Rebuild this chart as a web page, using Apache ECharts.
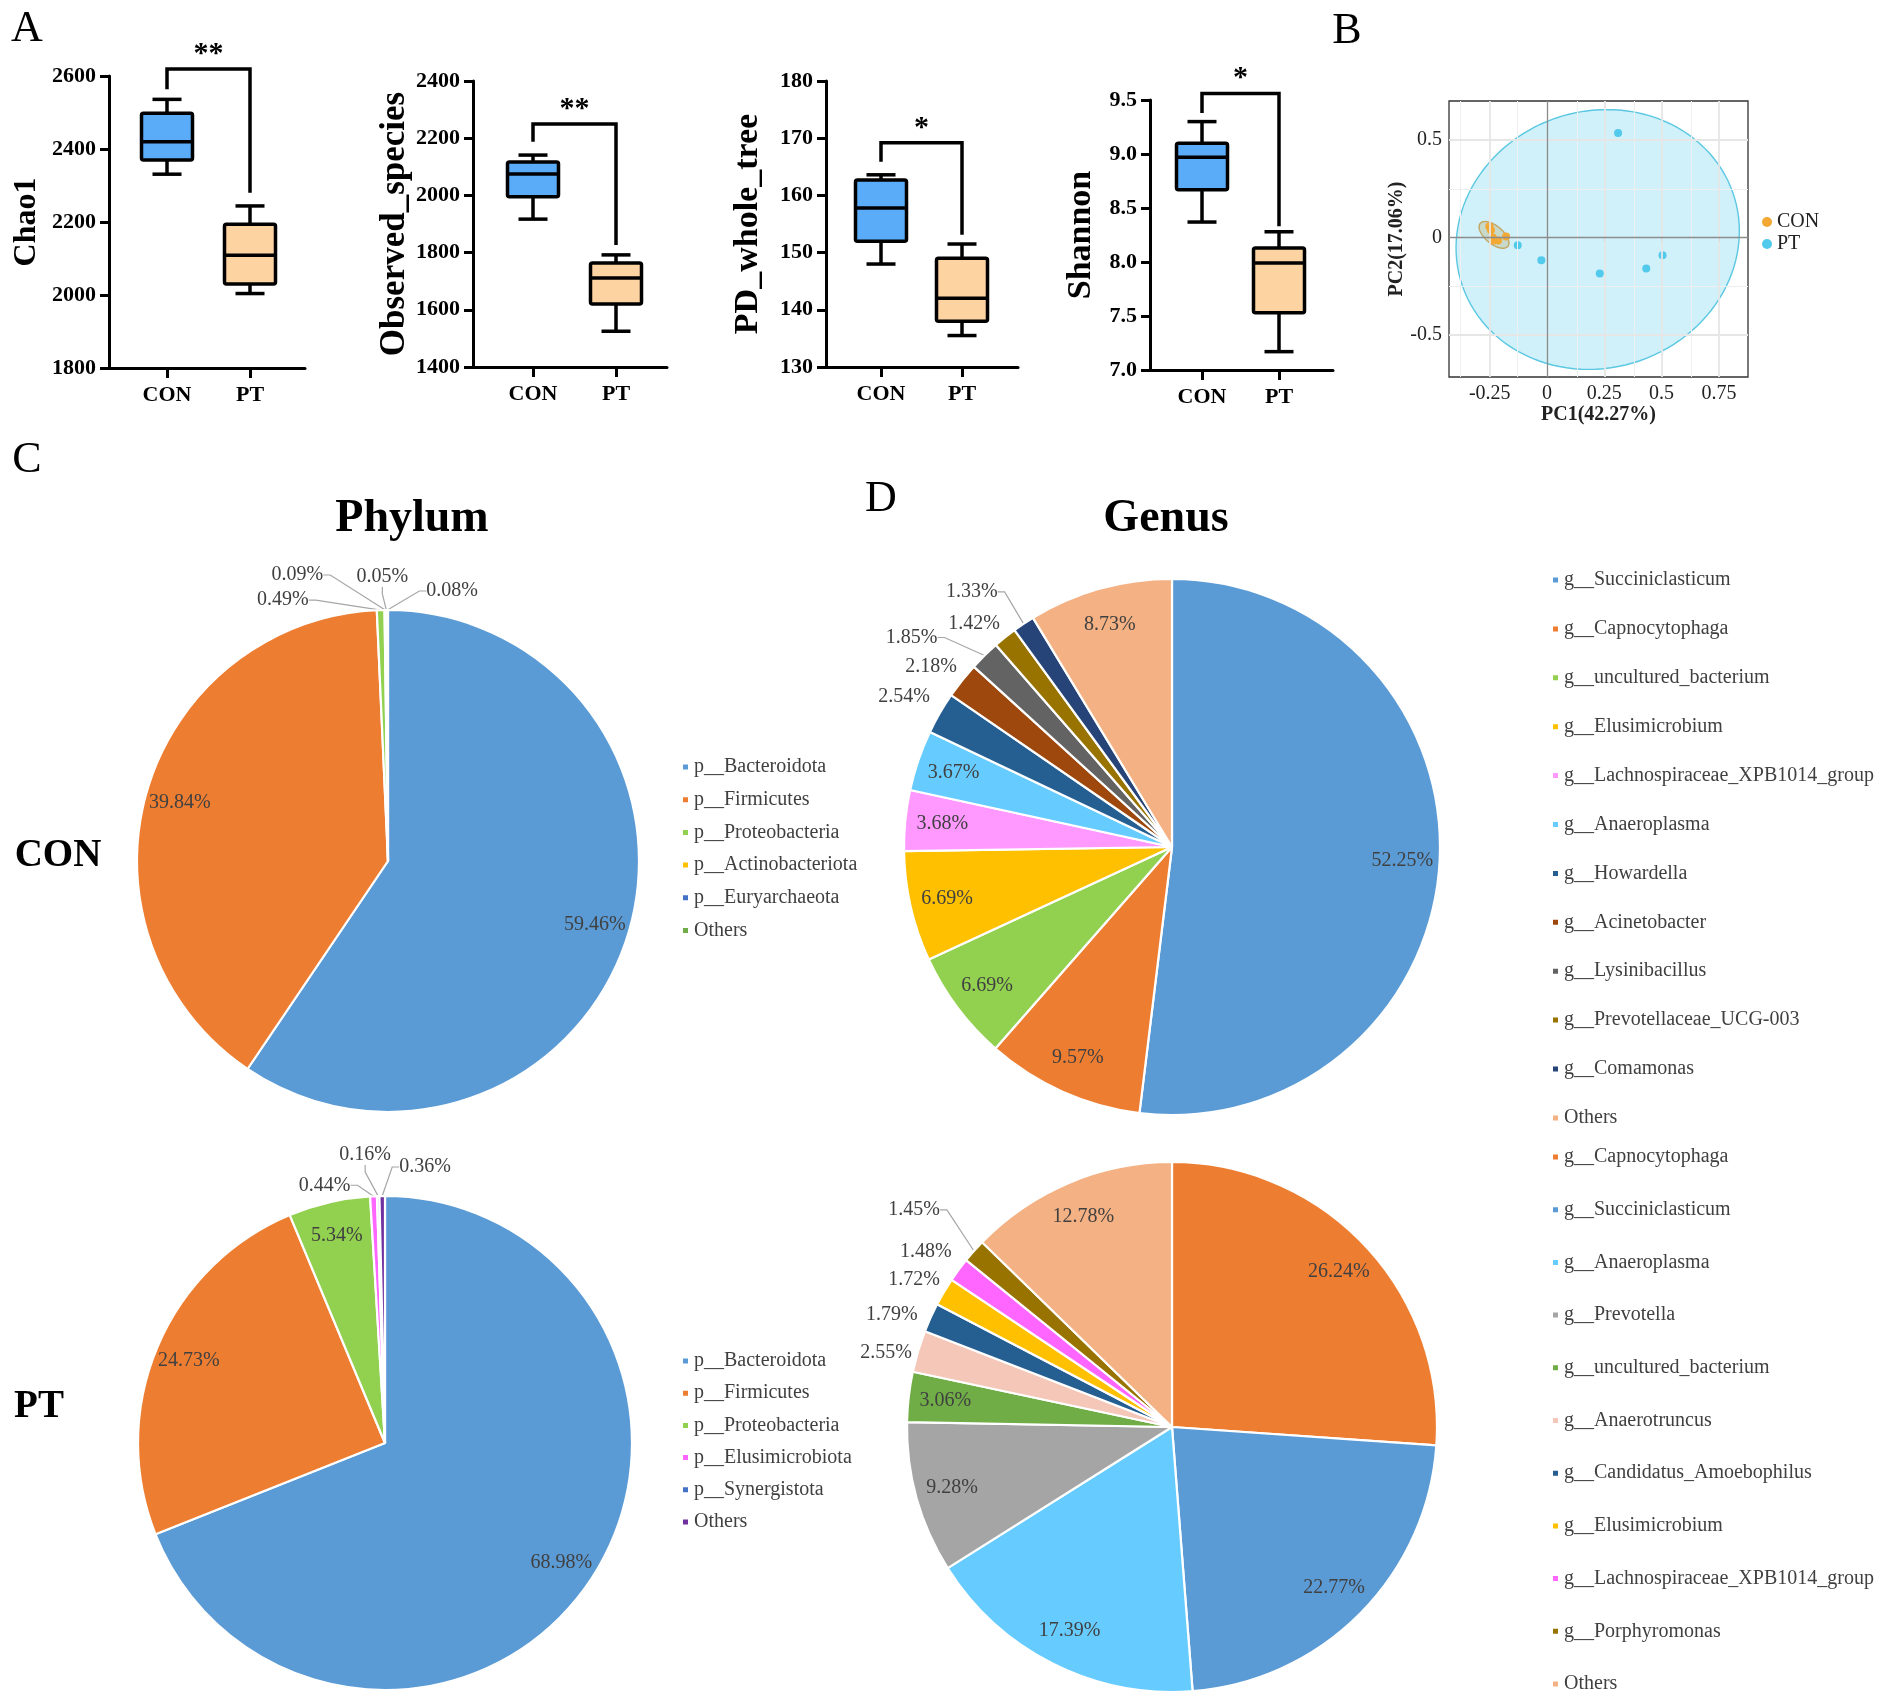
<!DOCTYPE html>
<html><head><meta charset="utf-8">
<script src="https://cdn.jsdelivr.net/npm/echarts@6/dist/echarts.min.js"></script>
<style>html,body{margin:0;padding:0;background:#fff}#c{width:1902px;height:1700px}</style>
</head><body><div id="c"></div>
<script>
const FONT = '"Liberation Serif","Times New Roman",Times,serif';

// ---------- Panel A: alpha diversity (min, Q1, median, Q3, max) ----------
const groups = ['CON', 'PT'];
const chao1 = [[2331, 2370, 2420, 2498, 2536], [2004, 2030, 2109, 2194, 2244]];
const observedSpecies = [[1917, 1995, 2075, 2117, 2141], [1525, 1620, 1711, 1764, 1792]];
const pdWholeTree = [[148, 152, 157.8, 162.7, 163.6], [135.5, 138, 142, 149, 151.5]];
const shannon = [[8.37, 8.67, 8.97, 9.10, 9.30], [7.17, 7.53, 7.99, 8.13, 8.28]];
const alphaNames = ['Chao1', 'Observed_species', 'PD_whole_tree', 'Shannon'];
const alphaAxis = [[1800, 2600, 200], [1400, 2400, 200], [130, 180, 10], [7.0, 9.5, 0.5]];
// bracket: [top, left leg end, right leg end]
const bracketLevels = [[2619, 2564, 2280], [2250, 2188, 1827], [169.2, 165.9, 153.1], [9.56, 9.38, 8.33]];
const significance = ['**', '**', '*', '*'];

// ---------- Panel B: PCoA ----------
const pcoaCON = [[-0.252, 0.056], [-0.245, 0.039], [-0.237, 0.0], [-0.232, -0.015], [-0.214, -0.015], [-0.179, 0.005]];
const pcoaPT = [[0.310, 0.536], [-0.128, -0.04], [-0.025, -0.116], [0.230, -0.185], [0.433, -0.159], [0.504, -0.091]];
const ellipseCON = {cx: -0.2315, cy: 0.0135, ax: 0.0606, ay: -0.0582, bx: -0.0237, by: -0.0361};
const ellipsePT = {cx: 0.221, cy: -0.01, ax: 0.617, ay: 0, bx: 0.04, by: 0.666};
const pcoaXTicks = [-0.25, 0, 0.25, 0.5, 0.75];
const pcoaYTicks = [-0.5, 0, 0.5];
const pcoaXMinor = [-0.375, -0.125, 0.125, 0.375, 0.625, 0.875];
const pcoaYMinor = [-0.25, 0.25];

// ---------- Panels C / D: composition ----------
const phylumConNames = ['p__Bacteroidota', 'p__Firmicutes', 'p__Proteobacteria', 'p__Actinobacteriota', 'p__Euryarchaeota', 'Others'];
const phylumConValues = [59.46, 39.84, 0.49, 0.09, 0.05, 0.08];
const phylumPtNames = ['p__Bacteroidota', 'p__Firmicutes', 'p__Proteobacteria', 'p__Elusimicrobiota', 'p__Synergistota', 'Others'];
const phylumPtValues = [68.98, 24.73, 5.34, 0.44, 0.16, 0.36];
const genusConNames = ['g__Succiniclasticum', 'g__Capnocytophaga', 'g__uncultured_bacterium', 'g__Elusimicrobium', 'g__Lachnospiraceae_XPB1014_group', 'g__Anaeroplasma', 'g__Howardella', 'g__Acinetobacter', 'g__Lysinibacillus', 'g__Prevotellaceae_UCG-003', 'g__Comamonas', 'Others'];
const genusConValues = [52.25, 9.57, 6.69, 6.69, 3.68, 3.67, 2.54, 2.18, 1.85, 1.42, 1.33, 8.73];
const genusPtNames = ['g__Capnocytophaga', 'g__Succiniclasticum', 'g__Anaeroplasma', 'g__Prevotella', 'g__uncultured_bacterium', 'g__Anaerotruncus', 'g__Candidatus_Amoebophilus', 'g__Elusimicrobium', 'g__Lachnospiraceae_XPB1014_group', 'g__Porphyromonas', 'Others'];
const genusPtValues = [26.24, 22.77, 17.39, 9.28, 3.06, 2.55, 1.79, 1.72, 1.48, 1.45, 12.78];

// ---------- styles / layout ----------
const boxFills = ['#5AACF9', '#FCD3A1'];
const phylumConColors = ['#5B9BD5', '#ED7D31', '#92D050', '#FFC000', '#4472C4', '#70AD47'];
const phylumPtColors = ['#5B9BD5', '#ED7D31', '#92D050', '#FF66FF', '#4472C4', '#7030A0'];
const genusConColors = ['#5B9BD5', '#ED7D31', '#92D050', '#FFC000', '#FF99FF', '#66CCFF', '#255E91', '#9E480E', '#636363', '#997300', '#264478', '#F4B183'];
const genusPtColors = ['#ED7D31', '#5B9BD5', '#66CCFF', '#A5A5A5', '#70AD47', '#F4C7B8', '#255E91', '#FFC000', '#FF66FF', '#997300', '#F4B183'];

const boxPanels = [
  {axisX: 109, right: 305, top: 76, bottom: 368, c0: 167, c1: 250, nameGap: 66, nameSize: 32},
  {axisX: 473, right: 667, top: 81, bottom: 367, c0: 533, c1: 616, nameGap: 43, nameSize: 35},
  {axisX: 826, right: 1018, top: 81, bottom: 367, c0: 881, c1: 962, nameGap: 61, nameSize: 34},
  {axisX: 1150, right: 1333, top: 100, bottom: 370, c0: 1202, c1: 1279, nameGap: 52, nameSize: 34}
];
const BOX_W = 51, CAP_W = 29, LW = 3.5;
const alphaData = [chao1, observedSpecies, pdWholeTree, shannon];

const grids = [], xAxes = [], yAxes = [], series = [];

boxPanels.forEach((L, i) => {
  const [mn, mx, step] = alphaAxis[i];
  const band = L.c1 - L.c0;
  grids.push({left: L.axisX, top: L.top, width: L.right - L.axisX, height: L.bottom - L.top});
  grids.push({left: L.c0 - band / 2, top: L.top, width: band * 2, height: L.bottom - L.top});
  const fg = 2 * i, dg = 2 * i + 1;
  xAxes.push({gridIndex: fg, type: 'value', min: 0, max: 1,
    axisLine: {show: true, lineStyle: {color: '#000', width: 3}},
    axisTick: {show: false}, axisLabel: {show: false}, splitLine: {show: false}});
  yAxes.push({gridIndex: fg, type: 'value', min: mn, max: mx, interval: step,
    axisLine: {show: true, lineStyle: {color: '#000', width: 3}},
    axisTick: {show: true, inside: false, length: 9, lineStyle: {color: '#000', width: 3}},
    axisLabel: {fontFamily: FONT, fontWeight: 'bold', fontSize: 22, color: '#000', margin: 13,
      formatter: v => (i === 3 ? v.toFixed(1) : String(v))},
    splitLine: {show: false},
    name: alphaNames[i], nameLocation: 'middle', nameGap: L.nameGap, nameRotate: 90,
    nameTextStyle: {fontFamily: FONT, fontWeight: 'bold', fontSize: L.nameSize, color: '#000'}});
  xAxes.push({gridIndex: dg, type: 'category', data: groups,
    axisLine: {show: false},
    axisTick: {show: true, alignWithLabel: true, length: 10, lineStyle: {color: '#000', width: 3}},
    axisLabel: {fontFamily: FONT, fontWeight: 'bold', fontSize: 22, color: '#000', margin: 16},
    splitLine: {show: false}});
  yAxes.push({gridIndex: dg, type: 'value', min: mn, max: mx, interval: step, show: false});
  const d = alphaData[i];
  series.push({type: 'custom', xAxisIndex: dg, yAxisIndex: dg, clip: false, z: 5,
    encode: {x: 0, y: [1, 2, 3, 4, 5]},
    data: d.map((v, k) => [k].concat(v)),
    renderItem: function (params, api) {
      const ci = api.value(0);
      const p = [1, 2, 3, 4, 5].map(k => api.coord([ci, api.value(k)]));
      const x = p[0][0];
      const st = {stroke: '#000', lineWidth: LW, fill: null};
      return {type: 'group', children: [
        {type: 'line', shape: {x1: x, y1: p[0][1], x2: x, y2: p[1][1]}, style: st},
        {type: 'line', shape: {x1: x, y1: p[3][1], x2: x, y2: p[4][1]}, style: st},
        {type: 'line', shape: {x1: x - CAP_W / 2, y1: p[0][1], x2: x + CAP_W / 2, y2: p[0][1]}, style: st},
        {type: 'line', shape: {x1: x - CAP_W / 2, y1: p[4][1], x2: x + CAP_W / 2, y2: p[4][1]}, style: st},
        {type: 'rect', shape: {x: x - BOX_W / 2, y: p[3][1], width: BOX_W, height: p[1][1] - p[3][1], r: 2},
          style: {fill: boxFills[ci], stroke: '#000', lineWidth: LW, lineJoin: 'round'}},
        {type: 'line', shape: {x1: x - BOX_W / 2, y1: p[2][1], x2: x + BOX_W / 2, y2: p[2][1]}, style: st}
      ]};
    }});
  const b = bracketLevels[i];
  series.push({type: 'line', xAxisIndex: dg, yAxisIndex: dg, clip: false, symbol: 'none', z: 6,
    lineStyle: {color: '#000', width: LW, join: 'miter'},
    data: [[0, b[1]], [0, b[0]], [1, b[0]], [1, b[2]]]});
});

// PCoA grid
const PG = grids.length;
grids.push({left: 1449, top: 101, width: 299, height: 276, show: true, borderColor: '#333', borderWidth: 1.3, backgroundColor: '#fff'});
xAxes.push({gridIndex: PG, type: 'value', min: -0.428, max: 0.877,
  axisLine: {show: false},
  axisTick: {show: true, customValues: pcoaXTicks, length: 4, lineStyle: {color: '#333'}},
  axisLabel: {customValues: pcoaXTicks, fontFamily: FONT, fontSize: 20, color: '#222', margin: 7, formatter: v => String(v)},
  splitLine: {show: false},
  name: 'PC1(42.27%)', nameLocation: 'middle', nameGap: 22,
  nameTextStyle: {fontFamily: FONT, fontWeight: 'bold', fontSize: 20, color: '#222'}});
yAxes.push({gridIndex: PG, type: 'value', min: -0.715, max: 0.70,
  axisLine: {show: false},
  axisTick: {show: true, customValues: pcoaYTicks, length: 4, lineStyle: {color: '#333'}},
  axisLabel: {customValues: pcoaYTicks, fontFamily: FONT, fontSize: 20, color: '#222', margin: 7, formatter: v => String(v)},
  splitLine: {show: false},
  name: 'PC2(17.06%)', nameLocation: 'middle', nameGap: 40, nameRotate: 90,
  nameTextStyle: {fontFamily: FONT, fontWeight: 'bold', fontSize: 20, color: '#222'}});
const PXI = xAxes.length - 1, PYI = yAxes.length - 1;

const gl = (key, v, color, width) => ({[key]: v, lineStyle: {color, width, type: 'solid'}});
const gridLines = []
  .concat(pcoaXMinor.map(v => gl('xAxis', v, '#EFEFEF', 1)))
  .concat(pcoaYMinor.map(v => gl('yAxis', v, '#EFEFEF', 1)))
  .concat(pcoaXTicks.filter(v => v !== 0).map(v => gl('xAxis', v, '#E6E6E6', 1.8)))
  .concat(pcoaYTicks.filter(v => v !== 0).map(v => gl('yAxis', v, '#E6E6E6', 1.8)))
  .concat([gl('xAxis', 0, '#8C8C8C', 1.3), gl('yAxis', 0, '#8C8C8C', 1.3)]);
series.push({type: 'scatter', name: 'grid', xAxisIndex: PXI, yAxisIndex: PYI, data: [], z: 1,
  markLine: {silent: true, symbol: ['none', 'none'], label: {show: false}, animation: false,
    lineStyle: {type: 'solid'}, data: gridLines}});

function ellipseSeries(e, fill, stroke, z) {
  return {type: 'custom', xAxisIndex: PXI, yAxisIndex: PYI, z, silent: true,
    data: [[e.cx, e.cy]],
    renderItem: function (params, api) {
      const pts = [];
      for (let k = 0; k < 120; k++) {
        const t = k / 120 * 2 * Math.PI;
        pts.push(api.coord([e.cx + e.ax * Math.cos(t) + e.bx * Math.sin(t), e.cy + e.ay * Math.cos(t) + e.by * Math.sin(t)]));
      }
      return {type: 'polygon', shape: {points: pts}, style: {fill, stroke, lineWidth: 1.4}};
    }};
}
series.push(ellipseSeries(ellipsePT, 'rgba(80,200,235,0.27)', '#5BC8E2', 2));
series.push(ellipseSeries(ellipseCON, 'rgba(190,175,110,0.35)', '#C2A660', 3));
series.push({type: 'scatter', name: 'CON', xAxisIndex: PXI, yAxisIndex: PYI, data: pcoaCON, symbolSize: 8, z: 4, itemStyle: {color: '#F2A833', opacity: 1}});
series.push({type: 'scatter', name: 'PT', xAxisIndex: PXI, yAxisIndex: PYI, data: pcoaPT, symbolSize: 8, z: 4, itemStyle: {color: '#52CAEB', opacity: 1}});

// ---------- pies ----------
// outside-label offsets relative to each slice's label anchor: [dx, dy, align, showLeaderLine]
const outLabelOffsets = [
  {2: [-72, -10, 'right', true], 3: [-62, -35, 'right', true], 4: [-4, -33, 'center', true], 5: [39, -19, 'left', true]},
  {3: [-23, -11, 'right', true], 4: [-13, -41, 'center', true], 5: [17, -29, 'left', true]},
  {6: [-10, -16, 'right', false], 7: [-5, -14, 'right', false], 8: [-47, -18, 'right', true], 9: [-5, -14, 'right', false], 10: [-26, -32, 'right', true]},
  {5: [-6, 1, 'right', false], 6: [-13, -3, 'right', false], 7: [-4, -12, 'right', false], 8: [-7, -18, 'right', false], 9: [-34, -41, 'right', true]}
];
const pieLayout = [
  {names: phylumConNames, values: phylumConValues, colors: phylumConColors, center: [388, 861], r: 251, legend: {left: 681, top: 756, gap: 10.7}},
  {names: phylumPtNames, values: phylumPtValues, colors: phylumPtColors, center: [385, 1443], r: 247, legend: {left: 681, top: 1350, gap: 10.2}},
  {names: genusConNames, values: genusConValues, colors: genusConColors, center: [1172, 847], r: 268, legend: {left: 1551, top: 569, gap: 26.9}},
  {names: genusPtNames, values: genusPtValues, colors: genusPtColors, center: [1172, 1427], r: 265, legend: {left: 1551, top: 1146, gap: 30.7}}
];
const LABEL_CUT = 3;
const pctFmt = p => p.value.toFixed(2) + '%';
const legends = [];
pieLayout.forEach((P, i) => {
  const offs = outLabelOffsets[i];
  const pie = {type: 'pie', name: 'pie' + i, center: P.center, radius: P.r, startAngle: 90, clockwise: true,
    avoidLabelOverlap: false, silent: true, z: 2,
    itemStyle: {borderColor: '#fff', borderWidth: 2.2},
    label: {show: false, fontFamily: FONT, fontSize: 20, color: '#404040', formatter: pctFmt},
    labelLine: {show: false, length: 9, length2: 7, lineStyle: {color: '#A6A6A6', width: 1.2}},
    data: P.names.map((n, k) => {
      const o = offs[k];
      const small = P.values[k] < LABEL_CUT;
      return {name: n, value: P.values[k], itemStyle: {color: P.colors[k]},
        label: {show: small, position: 'outside'},
        labelLine: {show: small && (!o || o[3])}};
    }),
    labelLayout: function (params) {
      const o = offs[params.dataIndex];
      if (!o || !params.labelLinePoints) return {};
      const a = params.labelLinePoints[0];
      return {x: a[0] + o[0], y: a[1] + o[1], align: o[2], verticalAlign: 'middle'};
    }};
  series.push(pie);
  series.push({type: 'pie', name: 'pieLabels' + i, center: P.center, radius: P.r * 1.7, startAngle: 90, clockwise: true,
    silent: true, z: 3, legendHoverLink: false,
    itemStyle: {color: 'rgba(0,0,0,0)', borderWidth: 0},
    label: {show: true, position: 'inside', fontFamily: FONT, fontSize: 20, color: '#404040', formatter: pctFmt},
    labelLine: {show: false},
    data: P.names.map((n, k) => ({name: n, value: P.values[k], label: {show: P.values[k] >= LABEL_CUT}}))});
  legends.push({orient: 'vertical', left: P.legend.left, top: P.legend.top, itemGap: P.legend.gap, padding: 0,
    height: 700, itemWidth: 7, itemHeight: 7, icon: 'rect', selectedMode: false,
    textStyle: {fontFamily: FONT, fontSize: 20, color: '#404040', lineHeight: 22},
    data: P.names.map((n, k) => ({name: n, itemStyle: {color: P.colors[k]}}))});
});
legends.push({orient: 'vertical', left: 1762, top: 212, itemGap: 2, padding: 0, itemWidth: 10, itemHeight: 10, icon: 'circle', selectedMode: false,
  textStyle: {fontFamily: FONT, fontSize: 20, color: '#222'},
  data: [{name: 'CON', itemStyle: {color: '#F2A833'}}, {name: 'PT', itemStyle: {color: '#52CAEB'}}]});

const chart = echarts.init(document.getElementById('c'), null, {renderer: 'canvas', width: 1902, height: 1700});
chart.setOption({
  backgroundColor: '#fff', animation: false,
  grid: grids, xAxis: xAxes, yAxis: yAxes, legend: legends, series: series
});

const txt = (x, y, s, size, weight, align) => ({type: 'text', x, y, silent: true,
  style: {text: s, fontFamily: FONT, fontSize: size, fontWeight: weight || 'normal', fill: '#000',
    textAlign: align || 'center', textVerticalAlign: 'middle'}});
const graphics = [
  txt(27, 29, 'A', 44), txt(1347, 31, 'B', 44), txt(27, 460, 'C', 44), txt(881, 499, 'D', 44),
  txt(412, 519, 'Phylum', 46, 'bold'), txt(1166, 519, 'Genus', 46, 'bold'),
  txt(58, 856, 'CON', 39, 'bold'), txt(39, 1407, 'PT', 39, 'bold')
];
boxPanels.forEach((L, i) => {
  const dg = 2 * i + 1;
  const a = chart.convertToPixel({xAxisIndex: dg, yAxisIndex: dg}, [0, bracketLevels[i][0]]);
  const b = chart.convertToPixel({xAxisIndex: dg, yAxisIndex: dg}, [1, bracketLevels[i][0]]);
  graphics.push(txt((a[0] + b[0]) / 2, a[1] - 15, significance[i], 30, 'bold'));
});
chart.setOption({graphic: graphics});
</script></body></html>
